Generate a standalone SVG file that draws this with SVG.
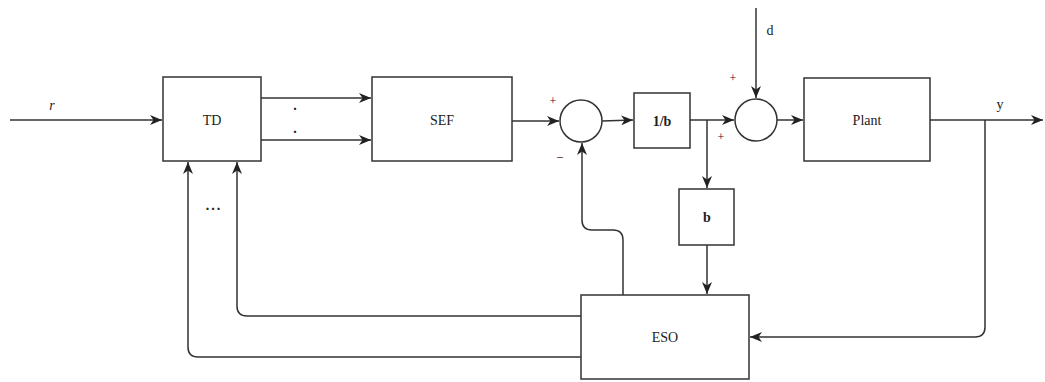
<svg xmlns="http://www.w3.org/2000/svg" width="1045" height="382" viewBox="0 0 1045 382">
<style>
.box{fill:#fff;stroke:#333;stroke-width:1.5}
.ln{fill:none;stroke:#333;stroke-width:1.5}
.t{font-family:"Liberation Serif",serif;font-size:14px;fill:#222;text-anchor:middle;dominant-baseline:central}
.s{font-family:"Liberation Serif",serif;font-size:12px;fill:#402;text-anchor:middle;dominant-baseline:central}
.b{font-weight:bold}
</style>
<defs>
<marker id="ar" viewBox="0 0 12 10" refX="12" refY="5" markerWidth="12" markerHeight="10" markerUnits="userSpaceOnUse" orient="auto">
<path d="M0,0 L12,5 L0,10 L3.5,5 z" fill="#222"/>
</marker>
</defs>
<g id="connectors">
<path class="ln" d="M10,120 H162" marker-end="url(#ar)"/>
<path class="ln" d="M261,98 H371" marker-end="url(#ar)"/>
<path class="ln" d="M261,140 H371" marker-end="url(#ar)"/>
<path class="ln" d="M512,121 H559" marker-end="url(#ar)"/>
<path class="ln" d="M602,121 L633,120" marker-end="url(#ar)"/>
<path class="ln" d="M690,120 H734" marker-end="url(#ar)"/>
<path class="ln" d="M707,120 V188" marker-end="url(#ar)"/>
<path class="ln" d="M756,8 V98" marker-end="url(#ar)"/>
<path class="ln" d="M777,120 H803" marker-end="url(#ar)"/>
<path class="ln" d="M930,120 H1043" marker-end="url(#ar)"/>
<path class="ln" d="M707,245 V294" marker-end="url(#ar)"/>
<path class="ln" d="M985,120 V327 Q985,337 975,337 H750" marker-end="url(#ar)"/>
<path class="ln" d="M623,295 V240 Q623,230 613,230 H592 Q582,230 582,220 V143" marker-end="url(#ar)"/>
<path class="ln" d="M581,316 H247 Q237,316 237,306 V162" marker-end="url(#ar)"/>
<path class="ln" d="M581,357 H198 Q188,357 188,347 V162" marker-end="url(#ar)"/>
</g>
<g id="TD"><rect class="box" x="163" y="77" width="98" height="84"/><text class="t" x="212" y="120">TD</text></g>
<g id="SEF"><rect class="box" x="372" y="77" width="140" height="84"/><text class="t" x="442" y="120">SEF</text></g>
<g id="sum1"><circle class="box" cx="581" cy="121" r="21"/></g>
<g id="inv_b"><rect class="box" x="634" y="93" width="56" height="55"/><text class="t b" x="662" y="121">1/b</text></g>
<g id="sum2"><circle class="box" cx="756" cy="120" r="21"/></g>
<g id="Plant"><rect class="box" x="804" y="78" width="126" height="83"/><text class="t" x="867" y="120">Plant</text></g>
<g id="b"><rect class="box" x="679" y="189" width="55" height="56"/><text class="t b" x="707" y="217">b</text></g>
<g id="ESO"><rect class="box" x="581" y="295" width="168" height="84"/><text class="t" x="665" y="337">ESO</text></g>
<g id="labels">
<text class="t" x="52" y="105" font-style="italic">r</text>
<text class="t b" x="295" y="105" font-size="16">.</text>
<text class="t b" x="295" y="128" font-size="16">.</text>
<text class="t b" x="214" y="205" font-size="20" letter-spacing="2">...</text>
<text class="s" x="560" y="156" font-size="15">–</text>
<text class="s" x="553" y="101">+</text>
<text class="t" x="770" y="30">d</text>
<text class="s" x="733" y="78">+</text>
<text class="s" x="721" y="137">+</text>
<text class="t" x="1000" y="104">y</text>
</g>
</svg>
